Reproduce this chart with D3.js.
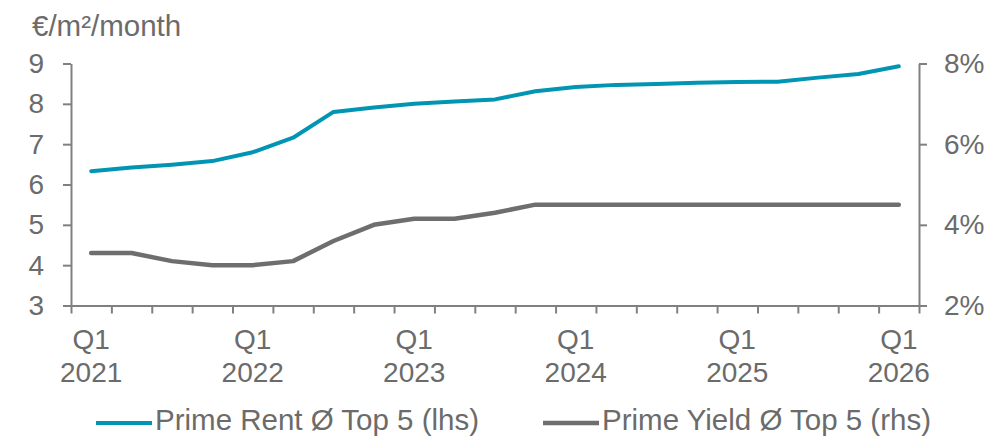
<!DOCTYPE html>
<html>
<head>
<meta charset="utf-8">
<script src="https://cdn.jsdelivr.net/npm/d3@7"></script>
<style>
  html, body { margin: 0; padding: 0; background: #fff; }
  svg { display: block; font-family: "Liberation Sans", Arial, sans-serif; }
</style>
</head>
<body>
<svg id="chart" width="989" height="436"></svg>
<script>
// ---- data ----
const quarters = ["Q1 2021","Q2 2021","Q3 2021","Q4 2021",
                  "Q1 2022","Q2 2022","Q3 2022","Q4 2022",
                  "Q1 2023","Q2 2023","Q3 2023","Q4 2023",
                  "Q1 2024","Q2 2024","Q3 2024","Q4 2024",
                  "Q1 2025","Q2 2025","Q3 2025","Q4 2025",
                  "Q1 2026"];
const primeRent = [6.33, 6.42, 6.49, 6.58, 6.80, 7.16, 7.80, 7.91, 8.00, 8.06, 8.11,
                   8.31, 8.42, 8.47, 8.49, 8.52, 8.54, 8.55, 8.65, 8.74, 8.93];
const primeYield = [3.3, 3.3, 3.1, 3.0, 3.0, 3.1, 3.6, 4.0, 4.15, 4.15, 4.3,
                    4.5, 4.5, 4.5, 4.5, 4.5, 4.5, 4.5, 4.5, 4.5, 4.5];
const leftTicks = [3, 4, 5, 6, 7, 8, 9];
const rightTicks = [2, 4, 6, 8];
const seriesNames = ["Prime Rent Ø Top 5 (lhs)", "Prime Yield Ø Top 5 (rhs)"];
const yAxisTitle = "€/m²/month";

// ---- styles ----
const teal = "#0095b3";
const grey = "#6e6e6e";
const axisCol = "#808080";
const textCol = "#6b6b6b";
const fs = 28;
const fsBig = 29.5;

const svg = d3.select("#chart");
const mLeft = 71, mRight = 919, mTop = 63.5, mBottom = 305.5;

const x = d3.scaleBand().domain(quarters).range([mLeft, mRight]).padding(0);
const xEdge = d3.scaleLinear().domain([0, quarters.length]).range([mLeft, mRight]);
const yL = d3.scaleLinear().domain([3, 9]).range([mBottom, mTop]);
const yR = d3.scaleLinear().domain([2, 8]).range([mBottom, mTop]);
const cx = d => x(d) + x.bandwidth() / 2;

// x axis (ticks at band edges)
const gx = svg.append("g").attr("transform", `translate(0,${mBottom})`)
  .call(d3.axisBottom(xEdge).tickValues(d3.range(quarters.length + 1))
        .tickSize(8).tickSizeOuter(0).tickFormat(""));
gx.select(".domain").attr("stroke", axisCol).attr("stroke-width", 2);
gx.selectAll(".tick line").attr("stroke", axisCol).attr("stroke-width", 2);

// x labels at Q1 only
const q1 = quarters.filter(q => q.startsWith("Q1"));
const xl = svg.append("g");
q1.forEach(q => {
  const [qq, yr] = q.split(" ");
  const t = xl.append("text").attr("x", cx(q)).attr("text-anchor", "middle")
    .attr("fill", textCol).attr("font-size", fs);
  t.append("tspan").attr("x", cx(q)).attr("y", 349).text(qq);
  t.append("tspan").attr("x", cx(q)).attr("y", 382).text(yr);
});

// left axis
const gl = svg.append("g").attr("transform", `translate(${mLeft},0)`)
  .call(d3.axisLeft(yL).tickValues(leftTicks).tickSize(8).tickSizeOuter(0)
        .tickPadding(19).tickFormat(d3.format("d")));
gl.select(".domain").attr("stroke", axisCol).attr("stroke-width", 2);
gl.selectAll(".tick line").attr("stroke", axisCol).attr("stroke-width", 2);
gl.selectAll(".tick text").attr("fill", textCol).attr("font-size", fs)
  .attr("font-family", "Liberation Sans, Arial, sans-serif");

// right axis
const gr = svg.append("g").attr("transform", `translate(${mRight},0)`)
  .call(d3.axisRight(yR).tickValues(rightTicks).tickSize(8).tickSizeOuter(0)
        .tickPadding(17).tickFormat(d => d + "%"));
gr.select(".domain").attr("stroke", axisCol).attr("stroke-width", 2);
gr.selectAll(".tick line").attr("stroke", axisCol).attr("stroke-width", 2);
gr.selectAll(".tick text").attr("fill", textCol).attr("font-size", fs)
  .attr("font-family", "Liberation Sans, Arial, sans-serif");

// axis title
svg.append("text").attr("x", 32).attr("y", 36).attr("fill", textCol)
  .attr("font-size", fsBig).text(yAxisTitle);

// lines
const lineL = d3.line().x((d, i) => cx(quarters[i])).y(d => yL(d));
const lineR = d3.line().x((d, i) => cx(quarters[i])).y(d => yR(d));

svg.append("path").datum(primeYield).attr("d", lineR).attr("fill", "none")
  .attr("stroke", grey).attr("stroke-width", 4.5).attr("stroke-linecap", "round")
  .attr("stroke-linejoin", "round");
svg.append("path").datum(primeRent).attr("d", lineL).attr("fill", "none")
  .attr("stroke", teal).attr("stroke-width", 4).attr("stroke-linecap", "round")
  .attr("stroke-linejoin", "round");

// legend
const legend = [
  { name: seriesNames[0], color: teal, x0: 96, x1: 152, tx: 155, w: 4 },
  { name: seriesNames[1], color: grey, x0: 543, x1: 599, tx: 602, w: 4.5 }
];
legend.forEach(l => {
  svg.append("line").attr("x1", l.x0).attr("x2", l.x1).attr("y1", 423).attr("y2", 423)
    .attr("stroke", l.color).attr("stroke-width", l.w);
  svg.append("text").attr("x", l.tx).attr("y", 430).attr("fill", textCol)
    .attr("font-size", fsBig).text(l.name);
});
</script>
</body>
</html>
